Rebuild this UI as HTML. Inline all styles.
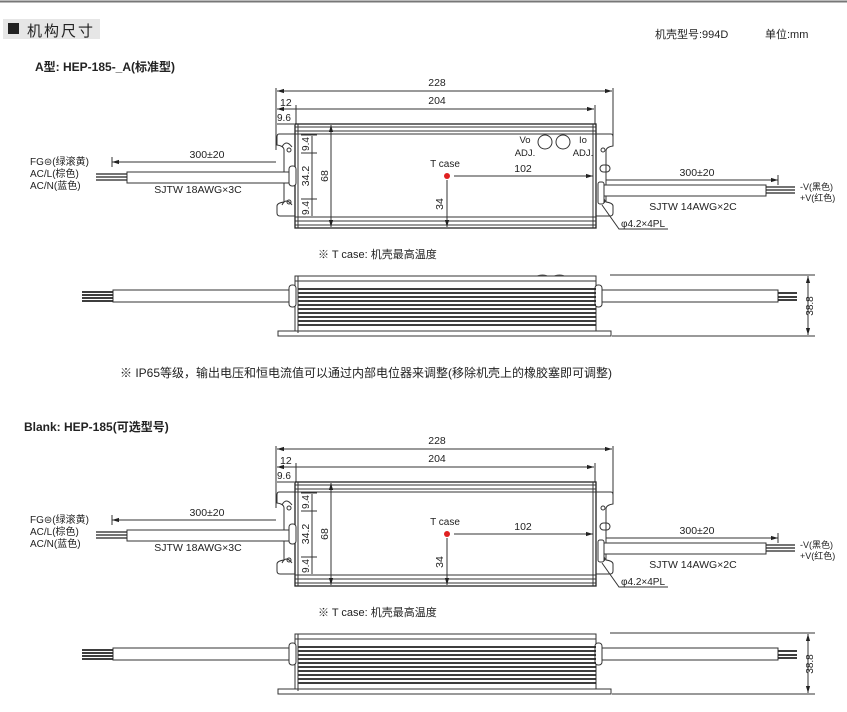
<!DOCTYPE html>
<html><head><meta charset="utf-8"><style>
html,body{margin:0;padding:0;background:#fff;}
svg{display:block;}
text{font-family:"Liberation Sans","Noto Sans CJK SC",sans-serif;fill:#222;}
</style></head><body>
<svg width="847" height="712" viewBox="0 0 847 712" xmlns="http://www.w3.org/2000/svg">
<defs>
<marker id="a" viewBox="0 0 10 10" refX="10" refY="5" markerWidth="7" markerHeight="7" orient="auto-start-reverse"><path d="M0,2 L10,5 L0,8z" fill="#222"/></marker>
<g id="top">
  <g stroke="#333" stroke-width="1" fill="none">
    <line x1="276" y1="88" x2="276" y2="150"/>
    <line x1="613" y1="88" x2="613" y2="137"/>
    <line x1="296" y1="105" x2="296" y2="124"/>
    <line x1="595" y1="105" x2="595" y2="124"/>
    <line x1="277" y1="91" x2="612" y2="91" marker-start="url(#a)" marker-end="url(#a)"/>
    <line x1="277" y1="109" x2="594" y2="109" marker-start="url(#a)" marker-end="url(#a)"/>
    <line x1="277" y1="124" x2="294" y2="124"/>
    <rect x="295" y="124" width="301" height="104" stroke="#222" stroke-width="1.3"/>
    <line x1="295" y1="127" x2="596" y2="127"/>
    <line x1="295" y1="131" x2="596" y2="131"/>
    <line x1="295" y1="134" x2="596" y2="134"/>
    <line x1="295" y1="217" x2="596" y2="217"/>
    <line x1="295" y1="221" x2="596" y2="221"/>
    <line x1="295" y1="225" x2="596" y2="225"/>
    <line x1="298" y1="124" x2="298" y2="228"/>
    <line x1="593" y1="124" x2="593" y2="228"/>
    <path d="M295,134 L279,134 Q277,134 277,137 L277,145 Q284,146 284,150 L284,202 Q277,203 277,206 L277,213 Q277,216 280,216 L295,216"/>
    <path d="M282,147 q4,-8 10,0 M282,205 q4,-8 10,0"/>
    <circle cx="289" cy="150" r="2"/><circle cx="289" cy="202" r="2"/>
    <path d="M596,134 L611,134 Q613,134 613,137 L613,146 Q606,147 606,151 L606,202 Q613,203 613,206 L613,213 Q613,216 610,216 L596,216"/>
    <circle cx="603" cy="150" r="2"/><circle cx="603" cy="201" r="2"/>
    <rect x="600" y="165" width="10" height="7" rx="3.5"/>
    <line x1="301" y1="135" x2="317" y2="135"/>
    <line x1="301" y1="153" x2="317" y2="153"/>
    <line x1="301" y1="199" x2="317" y2="199"/>
    <line x1="301" y1="217" x2="317" y2="217"/>
    <line x1="312" y1="136" x2="312" y2="216"/>
    <line x1="331" y1="125" x2="331" y2="227" marker-start="url(#a)" marker-end="url(#a)"/>
    <line x1="454" y1="176" x2="593" y2="176" marker-end="url(#a)"/>
    <line x1="447" y1="180" x2="447" y2="227" marker-end="url(#a)"/>
    <rect x="127" y="172" width="165" height="11" fill="#fff"/>
    <rect x="289" y="166" width="7" height="20" rx="3" fill="#fff"/>
    <line x1="112" y1="162" x2="276" y2="162" marker-start="url(#a)"/>
    <line x1="112" y1="157" x2="112" y2="167"/>
    <rect x="598" y="182" width="6" height="22" rx="2" fill="#fff"/>
    <rect x="604" y="185" width="162" height="11" fill="#fff"/>
    <line x1="606" y1="180" x2="778" y2="180" marker-end="url(#a)"/>
    <line x1="778" y1="175" x2="778" y2="185"/>
    <polyline points="602,205 619,229 668,229"/>
  </g>
  <g stroke="#222" stroke-width="1.2">
    <line x1="96" y1="174" x2="127" y2="174"/><line x1="96" y1="177" x2="127" y2="177"/><line x1="96" y1="180" x2="127" y2="180"/>
    <line x1="766" y1="187" x2="795" y2="187"/><line x1="766" y1="190" x2="795" y2="190"/><line x1="766" y1="193" x2="795" y2="193"/>
  </g>
  <circle cx="447" cy="176" r="3" fill="#e02020"/>
  <g font-size="10.5">
    <text x="437" y="86" text-anchor="middle">228</text>
    <text x="437" y="104" text-anchor="middle">204</text>
    <text x="280" y="106">12</text>
    <text x="277" y="121" font-size="10">9.6</text>
    <text x="207" y="158" text-anchor="middle">300±20</text>
    <text x="198" y="193" text-anchor="middle">SJTW 18AWG×3C</text>
    <text x="30" y="165" font-size="10">FG⊜(绿滚黄)</text>
    <text x="30" y="177" font-size="10">AC/L(棕色)</text>
    <text x="30" y="189" font-size="10">AC/N(蓝色)</text>
    <text x="445" y="167" text-anchor="middle" font-size="10">T case</text>
    <text x="523" y="172" text-anchor="middle">102</text>
    <text x="697" y="176" text-anchor="middle">300±20</text>
    <text x="693" y="210" text-anchor="middle">SJTW 14AWG×2C</text>
    <text x="800" y="190" font-size="9">-V(黑色)</text>
    <text x="800" y="201" font-size="9">+V(红色)</text>
    <text x="621" y="227" font-size="10">φ4.2×4PL</text>
    <text transform="translate(443,204) rotate(-90)" text-anchor="middle">34</text>
    <text transform="translate(328,176) rotate(-90)" text-anchor="middle">68</text>
    <text transform="translate(309,176) rotate(-90)" text-anchor="middle">34.2</text>
    <text transform="translate(309,144) rotate(-90)" text-anchor="middle" font-size="10">9.4</text>
    <text transform="translate(309,208) rotate(-90)" text-anchor="middle" font-size="10">9.4</text>
  </g>
</g>
<g id="side">
  <g stroke="#333" stroke-width="1" fill="none">
    <rect x="295" y="276" width="301" height="57" fill="#fff"/>
    <line x1="295" y1="281" x2="596" y2="281"/>
    <rect x="278" y="331" width="333" height="5" fill="#fff"/>
    <rect x="113" y="290" width="177" height="12" fill="#fff"/>
    <rect x="600" y="290" width="178" height="12" fill="#fff"/>
    <rect x="289" y="285" width="7" height="22" rx="3" fill="#fff"/>
    <rect x="595" y="285" width="7" height="22" rx="3" fill="#fff"/>
    <line x1="610" y1="275" x2="815" y2="275"/>
    <line x1="612" y1="336" x2="815" y2="336"/>
    <line x1="808" y1="276" x2="808" y2="335" marker-start="url(#a)" marker-end="url(#a)"/>
  </g>
  <g stroke="#222" stroke-width="1.8">
    <line x1="298" y1="289" x2="596" y2="289"/><line x1="298" y1="293" x2="596" y2="293"/>
    <line x1="298" y1="297" x2="596" y2="297"/><line x1="298" y1="301" x2="596" y2="301"/>
    <line x1="298" y1="305" x2="596" y2="305"/><line x1="298" y1="309" x2="596" y2="309"/>
    <line x1="298" y1="313" x2="596" y2="313"/><line x1="298" y1="317" x2="596" y2="317"/>
    <line x1="298" y1="321" x2="596" y2="321"/><line x1="298" y1="325" x2="596" y2="325"/>
    <line x1="82" y1="292" x2="113" y2="292"/><line x1="82" y1="295" x2="113" y2="295"/><line x1="82" y1="298" x2="113" y2="298"/><line x1="82" y1="301" x2="113" y2="301"/>
    <line x1="778" y1="293" x2="797" y2="293"/><line x1="778" y1="297" x2="797" y2="297"/><line x1="778" y1="300" x2="797" y2="300"/>
  </g>
  <line x1="298" y1="276" x2="298" y2="333" stroke="#333"/>
  <text transform="translate(813,306) rotate(-90)" text-anchor="middle" font-size="10">38.8</text>
  <text x="318" y="258" font-size="11">※ T case: 机壳最高温度</text>
</g>
</defs>
<line x1="0" y1="1.5" x2="847" y2="1.5" stroke="#777" stroke-width="2"/>
<rect x="3" y="19" width="97" height="20" fill="#e6e6e6"/>
<rect x="8" y="23" width="11" height="11" fill="#222"/>
<text x="27" y="36" font-size="15" letter-spacing="2">机构尺寸</text>
<text x="655" y="38" font-size="11">机壳型号:994D</text>
<text x="765" y="38" font-size="11">单位:mm</text>
<text x="35" y="71" font-size="12" font-weight="bold">A型: HEP-185-_A(标准型)</text>
<use href="#top"/>
<g stroke="#333" fill="none"><circle cx="545" cy="142" r="7"/><circle cx="563" cy="142" r="7"/></g>
<text x="525" y="143" font-size="9.5" text-anchor="middle">Vo</text>
<text x="525" y="156" font-size="9.5" text-anchor="middle">ADJ.</text>
<text x="583" y="143" font-size="9.5" text-anchor="middle">Io</text>
<text x="583" y="156" font-size="9.5" text-anchor="middle">ADJ.</text>
<path d="M535,277 q8,-4 14,0 M552,277 q8,-4 14,0" stroke="#555" fill="none"/>
<use href="#side"/>
<text x="120" y="377" font-size="12">※ IP65等级，输出电压和恒电流值可以通过内部电位器来调整(移除机壳上的橡胶塞即可调整)</text>
<text x="24" y="431" font-size="12" font-weight="bold">Blank: HEP-185(可选型号)</text>
<use href="#top" transform="translate(0,358)"/>
<use href="#side" transform="translate(0,358)"/>
</svg>
</body></html>
